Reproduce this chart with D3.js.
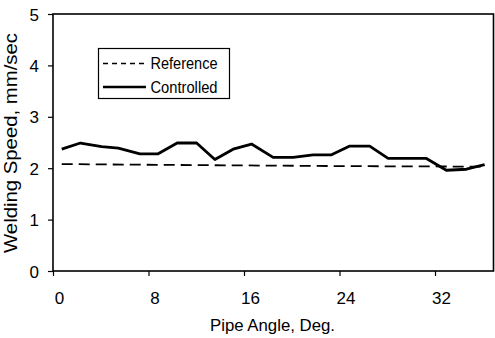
<!DOCTYPE html>
<html>
<head>
<meta charset="utf-8">
<script src="https://cdn.jsdelivr.net/npm/d3@7"></script>
<style>
  html, body { margin: 0; padding: 0; background: #fff; }
  svg text { font-family: "Liberation Sans", Arial, sans-serif; fill: #000; }
</style>
</head>
<body>
<div id="chart"></div>
<script>
// ── Data ──
const angles     = [0.73, 2.3, 4.08, 5.47, 7.28, 8.81, 10.4, 12.03, 13.56, 15.09, 16.63, 18.44,
                    20.11, 21.79, 23.33, 24.86, 26.53, 28.07, 29.6, 31.28, 32.95, 34.63, 36.16];
const controlled = [2.37, 2.49, 2.42, 2.39, 2.28, 2.28, 2.49, 2.49, 2.17, 2.37, 2.47, 2.21,
                    2.21, 2.26, 2.26, 2.43, 2.43, 2.19, 2.19, 2.19, 1.96, 1.98, 2.07];
const refAngles  = [0.73, 12.03, 24.86, 36.16];
const reference  = [2.08, 2.06, 2.04, 2.03];
const xTicks = [0, 8, 16, 24, 32];
const yTicks = [0, 1, 2, 3, 4, 5];
const legendItems = [
  { label: "Reference",  dash: "5,4", width: 1.6 },
  { label: "Controlled", dash: null,  width: 2.6 },
];

const W = 495, H = 338;
const m = { left: 53, right: 1.5, top: 14, bottom: 67 };

const svg = d3.select("#chart").append("svg")
  .attr("width", W).attr("height", H);

const x = d3.scaleLinear().domain([0, 36.9]).range([m.left, W - m.right]);
const y = d3.scaleLinear().domain([0, 5]).range([H - m.bottom, m.top]);

// ── Axes ──
const xAxis = svg.append("g")
  .attr("transform", `translate(0,${y(0)})`)
  .call(d3.axisBottom(x).tickValues(xTicks).tickFormat(d3.format("d"))
    .tickSize(5).tickPadding(28).tickSizeOuter(0));
xAxis.select(".domain").remove();
xAxis.selectAll(".tick line").attr("stroke", "#000").attr("stroke-width", 1.2);
xAxis.selectAll(".tick text")
  .attr("font-size", "17px").attr("dx", 6).attr("dy", 0);

const yAxis = svg.append("g")
  .attr("transform", `translate(${x(0)},0)`)
  .call(d3.axisLeft(y).tickValues(yTicks).tickFormat(d3.format("d"))
    .tickSize(5).tickPadding(9).tickSizeOuter(0));
yAxis.select(".domain").remove();
yAxis.selectAll(".tick line").attr("stroke", "#000").attr("stroke-width", 1.2);
yAxis.selectAll(".tick text").attr("font-size", "17px").attr("dy", "0.36em");

// frame
svg.append("rect")
  .attr("x", x(0)).attr("y", y(5))
  .attr("width", x.range()[1] - x(0)).attr("height", y(0) - y(5))
  .attr("fill", "none").attr("stroke", "#000").attr("stroke-width", 1.6);

// ── Lines ──
const refLine = d3.line().x((d, i) => x(refAngles[i])).y(d => y(d));
svg.append("path")
  .attr("d", refLine(reference))
  .attr("fill", "none").attr("stroke", "#000")
  .attr("stroke-width", 1.8).attr("stroke-dasharray", "11,6");

const ctlLine = d3.line().x((d, i) => x(angles[i])).y(d => y(d));
svg.append("path")
  .attr("d", ctlLine(controlled))
  .attr("fill", "none").attr("stroke", "#000")
  .attr("stroke-width", 2.8).attr("stroke-linejoin", "round");

// ── Axis titles ──
svg.append("text")
  .attr("x", 210).attr("y", 331)
  .attr("font-size", "17px")
  .attr("textLength", 125).attr("lengthAdjust", "spacingAndGlyphs")
  .text("Pipe Angle, Deg.");

svg.append("text")
  .attr("transform", "translate(17,253) rotate(-90)")
  .attr("font-size", "18px")
  .attr("textLength", 220).attr("lengthAdjust", "spacingAndGlyphs")
  .text("Welding Speed, mm/sec");

// ── Legend ──
const lg = svg.append("g");
lg.append("rect")
  .attr("x", 98.5).attr("y", 48.5).attr("width", 131).attr("height", 50)
  .attr("fill", "#fff").attr("stroke", "#000").attr("stroke-width", 1.2);

legendItems.forEach((d, i) => {
  const ly = 63.5 + i * 23.5;
  lg.append("line")
    .attr("x1", 103).attr("x2", 146).attr("y1", ly).attr("y2", ly)
    .attr("stroke", "#000").attr("stroke-width", d.width)
    .attr("stroke-dasharray", d.dash);
  lg.append("text")
    .attr("x", 150.5).attr("y", ly + 5.8)
    .attr("font-size", "16px")
    .attr("textLength", 67).attr("lengthAdjust", "spacingAndGlyphs")
    .text(d.label);
});
</script>
</body>
</html>
